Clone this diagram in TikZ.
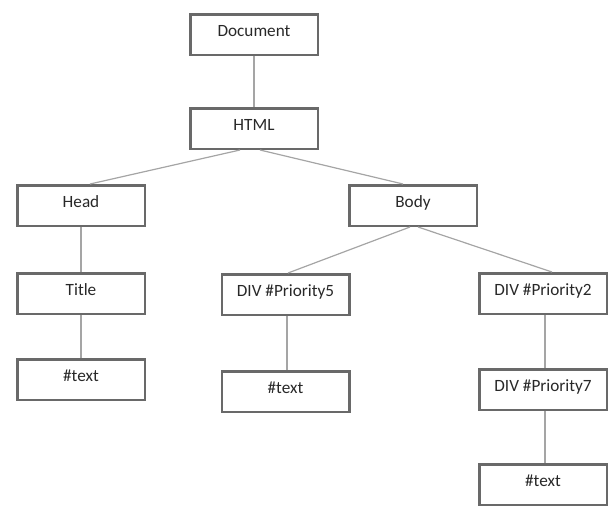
\documentclass[tikz,border=0pt]{standalone}
\usepackage{fontspec}
\setmainfont{Carlito}
\usepackage{tikz}
\usetikzlibrary{positioning}
\definecolor{boxgray}{RGB}{105,105,105}
\definecolor{linkgray}{RGB}{165,165,165}
\definecolor{labelgray}{RGB}{40,40,40}

\begin{document}
\begin{tikzpicture}[x=1pt,y=-1pt,
    elem/.style={rectangle,draw=boxgray,line width=2.5pt,minimum width=127.5pt,minimum height=40.5pt,
      inner sep=0pt,text=labelgray,font=\fontsize{17.2}{20}\selectfont,text height=12pt,text depth=9pt},
    link/.style={draw=linkgray,line width=1.2pt}]
    \useasboundingbox (0,0) rectangle (608,507);

    \node[elem] (doc) at (254,34.5) {Document};
    \node[elem,below=51pt of doc] (html) {HTML};
    \node[elem] (head) at (81,205.5) {Head};
    \node[elem] (body) at (413,205.5) {Body};

    % head branch
    \node[elem,below=45pt of head] (title) {Title};
    \node[elem,below=43pt of title] (titletext) {\#text};

    % body branch
    \node[elem] (divfive) at (285.5,294.5) {DIV \#Priority5};
    \node[elem,below=54pt of divfive] (divfivetext) {\#text};
    \node[elem] (divtwo) at (543,293.5) {DIV \#Priority2};
    \node[elem,below=53pt of divtwo] (divseven) {DIV \#Priority7};
    \node[elem,below=52pt of divseven] (divseventext) {\#text};

    \draw[link] (doc) -- (html);
    \draw[link] ([xshift=-14pt]html.south) -- ([xshift=9pt]head.north);
    \draw[link] ([xshift=6pt]html.south) -- ([xshift=-10pt]body.north);
    \draw[link] (head) -- (title);
    \draw[link] (title) -- (titletext);
    \draw[link] ([xshift=-3pt]body.south) -- ([xshift=2.5pt]divfive.north);
    \draw[link] ([xshift=5pt]body.south) -- ([xshift=9pt]divtwo.north);
    \draw[link] ([xshift=1.5pt]divfive.south) -- ([xshift=1.5pt]divfivetext.north);
    \draw[link] ([xshift=2pt]divtwo.south) -- ([xshift=2pt]divseven.north);
    \draw[link] ([xshift=2pt]divseven.south) -- ([xshift=2pt]divseventext.north);

\end{tikzpicture}
\end{document}
